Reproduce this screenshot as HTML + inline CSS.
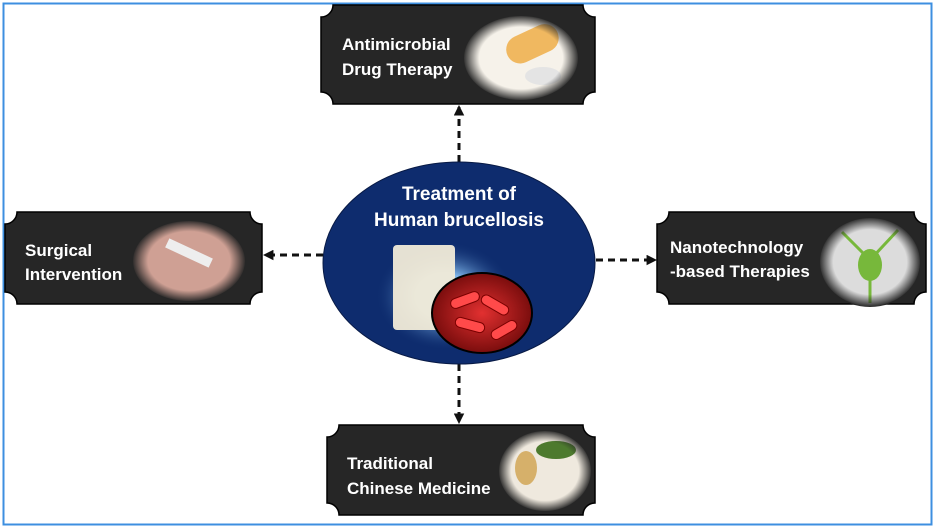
<!DOCTYPE html>
<html><head><meta charset="utf-8"><style>
html,body{margin:0;padding:0;background:#fff;width:935px;height:529px;overflow:hidden}
svg{display:block}
text{font-family:"Liberation Sans",sans-serif;font-weight:bold;fill:#fff}
</style></head><body>
<svg width="935" height="529" viewBox="0 0 935 529">
<defs>
<radialGradient id="fade" cx="50%" cy="50%" r="50%">
<stop offset="0.72" stop-color="#262626" stop-opacity="0"/>
<stop offset="1" stop-color="#262626" stop-opacity="1"/>
</radialGradient>
<radialGradient id="glow" cx="50%" cy="50%" r="50%">
<stop offset="0.4" stop-color="#7fb6ea"/>
<stop offset="1" stop-color="#0b2a6b" stop-opacity="0"/>
</radialGradient>
<radialGradient id="bac" cx="50%" cy="50%" r="50%">
<stop offset="0" stop-color="#e23030"/>
<stop offset="1" stop-color="#7a0d0d"/>
</radialGradient>
<marker id="ah" viewBox="0 0 10 10" refX="9" refY="5" markerWidth="3.5" markerHeight="3.5" orient="auto"><path d="M0,0 L10,5 L0,10 z" fill="#111"/></marker>
</defs>
<rect x="3.5" y="3.5" width="928" height="521" fill="none" stroke="#3d8fe0" stroke-width="2"/>

<g stroke="#111" stroke-width="3" stroke-dasharray="7,5" fill="none">
<line x1="459" y1="162" x2="459" y2="106" marker-end="url(#ah)"/>
<line x1="459" y1="364" x2="459" y2="423" marker-end="url(#ah)"/>
<line x1="323" y1="255" x2="264" y2="255" marker-end="url(#ah)"/>
<line x1="596" y1="260" x2="656" y2="260" marker-end="url(#ah)"/>
</g>

<g fill="#262626" stroke="#000" stroke-width="1.5">
<path d="M333,5 H583 A12,12 0 0 0 595,17 V92 A12,12 0 0 0 583,104 H333 A12,12 0 0 0 321,92 V17 A12,12 0 0 0 333,5 Z"/>
<path d="M17,212 H250 A12,12 0 0 0 262,224 V292 A12,12 0 0 0 250,304 H17 A12,12 0 0 0 5,292 V224 A12,12 0 0 0 17,212 Z"/>
<path d="M669,212 H914 A12,12 0 0 0 926,224 V292 A12,12 0 0 0 914,304 H669 A12,12 0 0 0 657,292 V224 A12,12 0 0 0 669,212 Z"/>
<path d="M339,425 H583 A12,12 0 0 0 595,437 V503 A12,12 0 0 0 583,515 H339 A12,12 0 0 0 327,503 V437 A12,12 0 0 0 339,425 Z"/>
</g>

<ellipse cx="521" cy="58" rx="57" ry="42" fill="#f6f2ea"/>
<rect x="505" y="30" width="55" height="28" rx="14" fill="#f0b860" transform="rotate(-25 532 44)"/>
<ellipse cx="543" cy="76" rx="18" ry="9" fill="#e4e4e4"/>
<ellipse cx="521" cy="58" rx="58" ry="43" fill="url(#fade)"/>

<ellipse cx="189" cy="261" rx="56" ry="40" fill="#cfa094"/>
<rect x="165" y="248" width="48" height="10" fill="#eee" transform="rotate(25 189 253)"/>
<ellipse cx="189" cy="261" rx="57" ry="41" fill="url(#fade)"/>

<ellipse cx="870" cy="262" rx="50" ry="44" fill="#dcdcdc"/>
<ellipse cx="870" cy="265" rx="12" ry="16" fill="#77b83b"/>
<g stroke="#77b83b" stroke-width="3"><line x1="870" y1="260" x2="842" y2="232"/><line x1="870" y1="260" x2="898" y2="230"/><line x1="870" y1="270" x2="870" y2="303"/></g>
<ellipse cx="870" cy="262" rx="51" ry="45" fill="url(#fade)"/>

<ellipse cx="545" cy="471" rx="46" ry="40" fill="#efe9de"/>
<ellipse cx="526" cy="468" rx="11" ry="17" fill="#d6b06a"/>
<ellipse cx="556" cy="450" rx="20" ry="9" fill="#4d7a2e"/>
<ellipse cx="545" cy="471" rx="47" ry="41" fill="url(#fade)"/>

<ellipse cx="459" cy="263" rx="136" ry="101" fill="#0e2c6e" stroke="#081a45" stroke-width="1"/>
<ellipse cx="445" cy="296" rx="70" ry="55" fill="url(#glow)"/>
<rect x="393" y="245" width="62" height="85" fill="#f1ebd8" rx="4" opacity="0.95"/>
<ellipse cx="482" cy="313" rx="50" ry="40" fill="url(#bac)" stroke="#000" stroke-width="2"/>
<g fill="#ff4a4a" stroke="#7a0000" stroke-width="1">
<rect x="450" y="295" width="30" height="10" rx="5" transform="rotate(-20 465 300)"/>
<rect x="480" y="300" width="30" height="10" rx="5" transform="rotate(30 495 305)"/>
<rect x="455" y="320" width="30" height="10" rx="5" transform="rotate(15 470 325)"/>
<rect x="490" y="325" width="28" height="10" rx="5" transform="rotate(-30 504 330)"/>
</g>

<g font-size="19">
<text x="459" y="200" text-anchor="middle">Treatment of</text>
<text x="459" y="226" text-anchor="middle">Human brucellosis</text>
</g>
<g font-size="17">
<text x="342" y="50">Antimicrobial</text>
<text x="342" y="75">Drug Therapy</text>
<text x="25" y="256">Surgical</text>
<text x="25" y="280">Intervention</text>
<text x="670" y="253">Nanotechnology</text>
<text x="670" y="277">-based Therapies</text>
<text x="347" y="469">Traditional</text>
<text x="347" y="494">Chinese Medicine</text>
</g>
</svg>
</body></html>
